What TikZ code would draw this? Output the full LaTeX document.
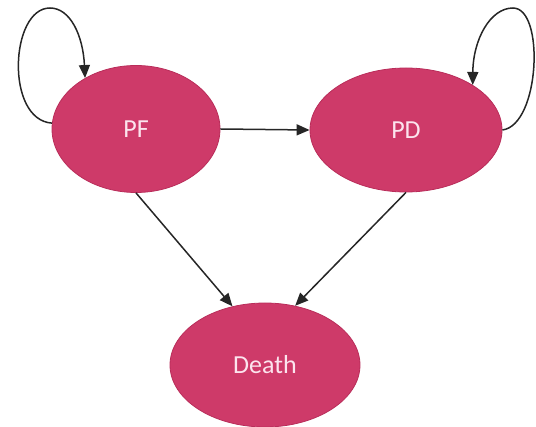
\documentclass[tikz,border=0pt]{standalone}
\usepackage{fontspec}
\setmainfont{Carlito}
\usetikzlibrary{shapes.geometric,arrows.meta}
\definecolor{stateFill}{RGB}{206,58,105}
\definecolor{stateEdge}{RGB}{185,45,90}
\definecolor{stateText}{RGB}{252,228,238}
\tikzset{
  state/.style={ellipse, fill=stateFill, draw=stateEdge, line width=0.8pt, inner sep=0pt,
    text=stateText, font=\fontsize{26}{30}\selectfont},
  conn/.style={line width=1.5pt, draw=black!85, -{Triangle[length=13pt,width=11pt]}}
}
\begin{document}
\begin{tikzpicture}[x=1pt,y=-1pt]
\useasboundingbox (0,0) rectangle (536,427);
\node[state, minimum width=168pt, minimum height=127pt] (PF) at (136,129) {PF};
\node[state, minimum width=192pt, minimum height=124pt] (PD) at (406,130) {PD};
\node[state, minimum width=190pt, minimum height=124pt] (D) at (265,365) {Death};
\coordinate (PFtop) at (50,8);
\coordinate (PDtop) at (513,8);
\draw[conn] (PF.east) -- (PD.west);
\draw[conn] (PF.south) -- (D.119);
\draw[conn] (PD.south) -- (D.63);
\draw[conn] (PF.176) .. controls (5,120) and (10,8) .. (PFtop)
  .. controls (70,8) and (83,35) .. (PF.135);
\draw[conn] (PD.east) .. controls (540,125) and (545,8) .. (PDtop)
  .. controls (490,8) and (473,40) .. (PD.34);
\end{tikzpicture}
\end{document}
